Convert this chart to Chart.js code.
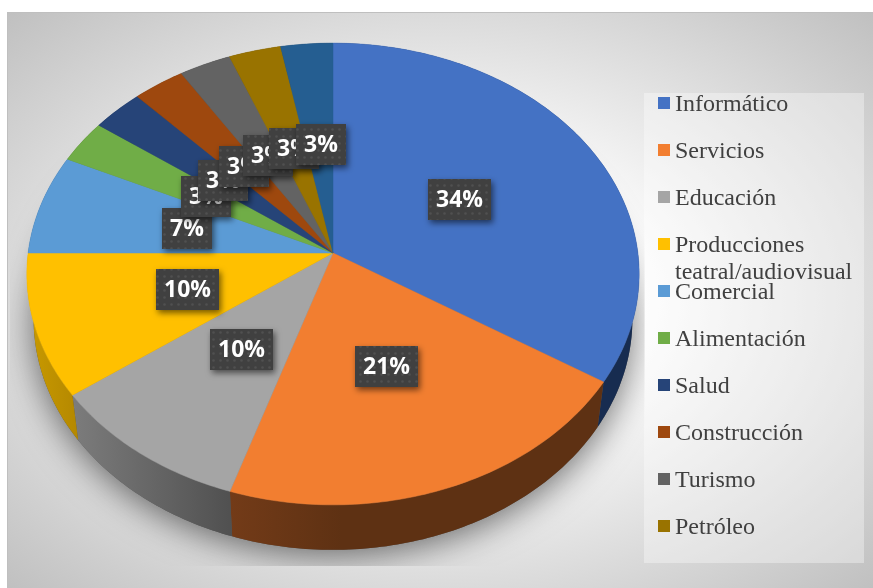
<!DOCTYPE html>
<html lang="es">
<head>
<meta charset="utf-8">
<style>
html,body{margin:0;padding:0;background:#fff;width:873px;height:588px;overflow:hidden}
#panel{position:absolute;left:7px;top:12px;right:0;bottom:0;box-sizing:border-box;border-left:1px solid #bfbfbf;border-top:1px solid #bfbfbf;
background:radial-gradient(ellipse farthest-corner at 50% 50%,#ffffff 30%,#c0c0c0 100%)}
canvas{position:absolute;left:0;top:0}
</style>
<script src="https://cdn.jsdelivr.net/npm/chart.js@4/dist/chart.umd.js"></script>
</head>
<body>
<div id="panel"></div>
<canvas id="c" width="873" height="588"></canvas>
<script>
const categories = ["Informático","Servicios","Educación","Producciones\nteatral/audiovisual","Comercial","Alimentación","Salud","Construcción","Turismo","Petróleo"];
const values = [34,21,10,10,7,3,3,3,3,3,3];
const topColors = ["#4472c4","#f27e30","#a5a5a5","#ffc000","#5b9bd5","#70ad47","#264478","#9e480e","#636363","#997300","#255e91"];
const wallLeft = ["#172c50","#733b18","#7c7c7c","#c99a00","#2d4e6b","#385723","#132240","#4f2407","#323232","#4d3a00","#132f49"];
const wallRight = ["#172c50","#5e3113","#505050","#b48800","#2d4e6b","#385723","#132240","#4f2407","#323232","#4d3a00","#132f49"];

// perspective of the tilted pie, relative to the library's own arc centre and radius
const persp = {k:0.0909, sx:1.205, sy:0.905, depth:45, bottomScale:0.978};
function project(el,a,f,lower){
  const u=Math.cos(a)*f, v=Math.sin(a)*f, w=1-persp.k*v;
  let x=el.outerRadius*persp.sx*u/w, y=el.outerRadius*persp.sy*v/w;
  if(lower){x*=persp.bottomScale;y+=persp.depth;}
  return [el.x+x,el.y+y];
}
function arcPts(el,lower){
  const pts=[],n=Math.max(6,Math.ceil((el.endAngle-el.startAngle)*60));
  for(let i=0;i<=n;i++){pts.push(project(el,el.startAngle+(el.endAngle-el.startAngle)*i/n,1,lower));}
  return pts;
}
function dotPattern(ctx){
  const p=document.createElement('canvas');p.width=7;p.height=7;
  const g=p.getContext('2d');g.fillStyle='#404040';g.fillRect(0,0,7,7);
  g.fillStyle='#505050';g.beginPath();g.arc(3.5,3.5,1.3,0,Math.PI*2);g.fill();
  return ctx.createPattern(p,'repeat');
}
const pie3d={
  id:'pie3d',
  beforeDatasetsDraw(chart){
    const ctx=chart.ctx, arcs=chart.getDatasetMeta(0).data;
    const plot={x:10,y:13,w:635,h:553};
    // soft shadow under the pie, cut off by the plot rectangle
    ctx.save();
    ctx.beginPath();ctx.rect(plot.x,plot.y,plot.w,plot.h);ctx.clip();
    ctx.shadowColor='rgba(0,0,0,0.55)';ctx.shadowBlur=34;ctx.shadowOffsetY=6;
    ctx.fillStyle='#555';
    ctx.beginPath();
    arcs.forEach(el=>arcPts(el,true).forEach(p=>ctx.lineTo(p[0],p[1])));
    ctx.closePath();ctx.fill();
    ctx.restore();
    // outer walls
    arcs.forEach((el,i)=>{
      const up=arcPts(el,false),lo=arcPts(el,true);
      const xs=up.concat(lo).map(p=>p[0]);
      const x0=Math.min(...xs),x1=Math.max(...xs);
      const g=ctx.createLinearGradient(x0,0,x1,0);
      g.addColorStop(0,wallLeft[i]);g.addColorStop(i===1?0.3:1,wallRight[i]);if(i===1)g.addColorStop(1,wallRight[i]);
      ctx.fillStyle=g;ctx.beginPath();
      up.forEach(p=>ctx.lineTo(p[0],p[1]));
      lo.reverse().forEach(p=>ctx.lineTo(p[0],p[1]));
      ctx.closePath();ctx.fill();
    });
    // top faces
    arcs.forEach((el,i)=>{
      ctx.fillStyle=topColors[i];ctx.strokeStyle=topColors[i];ctx.lineWidth=0.5;
      ctx.beginPath();ctx.moveTo(el.x,el.y);
      arcPts(el,false).forEach(p=>ctx.lineTo(p[0],p[1]));
      ctx.closePath();ctx.fill();ctx.stroke();
    });
    return false;
  },
  afterDraw(chart){
    const ctx=chart.ctx, arcs=chart.getDatasetMeta(0).data;
    const total=values.reduce((a,b)=>a+b,0), pat=dotPattern(ctx);
    // data labels
    arcs.forEach((el,i)=>{
      const c=project(el,(el.startAngle+el.endAngle)/2,0.5,false);
      const txt=Math.round(values[i]/total*100)+'%';
      ctx.font='bold 23px "Open Sans"';
      const w=Math.round(ctx.measureText(txt).width)+16,h=41;
      const cx=c[0]>el.x?el.x+(c[0]-el.x)*0.96:c[0];
      const x=Math.round(cx+1.5-w/2),y=Math.round(c[1]+0.5-h/2);
      ctx.save();
      ctx.shadowColor='rgba(0,0,0,0.55)';ctx.shadowBlur=6;ctx.shadowOffsetX=2;ctx.shadowOffsetY=3;
      ctx.fillStyle=pat;ctx.fillRect(x,y,w,h);
      ctx.restore();
      ctx.fillStyle='#fff';ctx.textAlign='center';ctx.textBaseline='middle';
      ctx.fillText(txt,x+w/2,y+h/2+0.5);
    });
    // legend
    const lg={x:644,y:93,w:220,h:470,first:97,step:47,size:12};
    ctx.fillStyle='rgba(255,255,255,0.35)';ctx.fillRect(lg.x,lg.y,lg.w,lg.h);
    ctx.textAlign='left';ctx.textBaseline='alphabetic';ctx.font='24px "Liberation Serif"';
    categories.forEach((name,i)=>{
      const y=lg.first+lg.step*i;
      ctx.fillStyle=topColors[i];ctx.fillRect(658,y,lg.size,lg.size);
      ctx.fillStyle='#404040';
      name.split('\n').forEach((t,j)=>ctx.fillText(t,675,y+14+27*j));
    });
  }
};
new Chart(document.getElementById('c'),{
  type:'pie',
  data:{labels:categories,datasets:[{data:values,backgroundColor:topColors,borderWidth:0}]},
  options:{
    responsive:false,animation:false,
    layout:{padding:{left:0,right:207,top:0,bottom:82}},
    plugins:{legend:{display:false},tooltip:{enabled:false}},
    events:[]
  },
  plugins:[pie3d]
});
</script>
</body>
</html>
